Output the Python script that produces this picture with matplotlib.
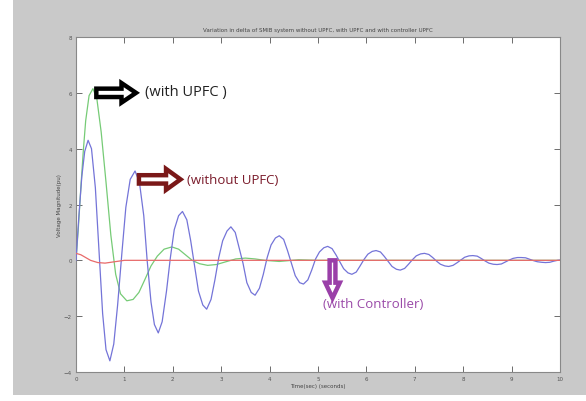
import matplotlib
matplotlib.use("Agg")
import matplotlib.pyplot as plt
from matplotlib.patches import Rectangle, FancyArrow

# ---- data ----
t_without = [0.00, 0.06, 0.12, 0.18, 0.25, 0.32, 0.40, 0.48, 0.55, 0.62, 0.70, 0.78, 0.86, 0.95,
             1.03, 1.12, 1.22, 1.31, 1.40, 1.47, 1.55, 1.62, 1.70, 1.78, 1.87, 1.95,
             2.03, 2.12, 2.20, 2.29, 2.37, 2.45, 2.53, 2.62, 2.70, 2.79, 2.87, 2.95,
             3.03, 3.12, 3.20, 3.29, 3.37, 3.45, 3.53, 3.62, 3.70, 3.79, 3.87, 3.95,
             4.03, 4.12, 4.20, 4.29, 4.37, 4.45, 4.53, 4.62, 4.70, 4.79, 4.87, 4.95,
             5.03, 5.12, 5.20, 5.29, 5.37, 5.45, 5.53, 5.62, 5.70, 5.79, 5.87, 5.95,
             6.03, 6.12, 6.20, 6.29, 6.37, 6.45, 6.53, 6.62, 6.70, 6.79, 6.87, 6.95,
             7.03, 7.12, 7.20, 7.29, 7.37, 7.45, 7.53, 7.62, 7.70, 7.79, 7.87, 7.95,
             8.03, 8.12, 8.20, 8.29, 8.37, 8.45, 8.53, 8.62, 8.70, 8.79, 8.87, 8.95,
             9.03, 9.12, 9.20, 9.29, 9.37, 9.45, 9.53, 9.62, 9.70, 9.79, 9.87, 9.95, 10.0]
v_without = [0.0, 1.6, 3.0, 3.9, 4.3, 4.0, 2.6, 0.2, -1.9, -3.2, -3.6, -3.0, -1.6, 0.3,
             1.9, 2.9, 3.2, 2.8, 1.6, 0.0, -1.5, -2.3, -2.6, -2.2, -1.1, 0.1,
             1.1, 1.6, 1.75, 1.45, 0.7, -0.2, -1.1, -1.6, -1.75, -1.4, -0.7, 0.1,
             0.7, 1.05, 1.2, 1.0, 0.45, -0.1, -0.8, -1.15, -1.25, -1.0, -0.5, 0.1,
             0.55, 0.8, 0.88, 0.75, 0.35, -0.1, -0.55, -0.8, -0.85, -0.7, -0.35, 0.05,
             0.3, 0.45, 0.5, 0.42, 0.2, -0.05, -0.3, -0.45, -0.5, -0.42, -0.2, 0.03,
             0.22, 0.32, 0.35, 0.3, 0.14, -0.04, -0.22, -0.32, -0.35, -0.29, -0.14, 0.02,
             0.16, 0.23, 0.25, 0.21, 0.1, -0.03, -0.14, -0.2, -0.22, -0.18, -0.09, 0.01,
             0.11, 0.16, 0.17, 0.15, 0.07, -0.02, -0.1, -0.14, -0.15, -0.13, -0.06, 0.01,
             0.07, 0.1, 0.1, 0.09, 0.04, -0.01, -0.05, -0.07, -0.08, -0.07, -0.03, 0.0, 0.01]

t_with = [0.00, 0.05, 0.10, 0.15, 0.20, 0.27, 0.35, 0.43, 0.52, 0.62, 0.72, 0.82, 0.92, 1.05,
          1.18, 1.30, 1.42, 1.55, 1.68, 1.82, 1.98, 2.12, 2.26, 2.40, 2.55, 2.72, 2.90,
          3.10, 3.30, 3.50, 3.70, 3.90, 4.20, 4.60, 5.00, 6.00, 7.00, 8.00, 9.00, 10.0]
v_with = [0.0, 1.2, 2.6, 3.9, 5.0, 5.9, 6.15, 5.8, 4.6, 2.8, 0.9, -0.5, -1.2, -1.45,
          -1.4, -1.15, -0.7, -0.2, 0.15, 0.4, 0.48, 0.4, 0.2, 0.0, -0.12, -0.18, -0.15,
          -0.05, 0.05, 0.08, 0.05, 0.0, -0.04, 0.02, 0.0, 0.0, 0.0, 0.0, 0.0, 0.0]

t_ctrl = [0.0, 0.1, 0.2, 0.3, 0.45, 0.6, 0.8, 1.0, 10.0]
v_ctrl = [0.25, 0.2, 0.1, 0.0, -0.08, -0.1, -0.05, 0.0, 0.0]

x_ticks = [0, 1, 2, 3, 4, 5, 6, 7, 8, 9, 10]
y_ticks = [-4, -2, 0, 2, 4, 6, 8]

title = "Variation in delta of SMIB system without UPFC, with UPFC and with controller UPFC"
xlabel = "Time(sec) (seconds)"
ylabel = "Voltage Magnitude(pu)"

W, H = 586, 402
fig = plt.figure(figsize=(W / 100, H / 100), dpi=100, facecolor="white")
bg = Rectangle((13 / W, 6 / H), 1 - 13 / W, 1 - 6 / H, transform=fig.transFigure,
               facecolor="#c9c9c9", edgecolor="none", zorder=-10)
fig.patches.append(bg)

ax = fig.add_axes([76 / W, 1 - 373 / H, (560 - 76) / W, (373 - 38) / H])
ax.set_zorder(5)
ax.set_facecolor("white")
ax.plot(t_without, v_without, color="#7474d8", lw=0.9, zorder=3)
ax.plot(t_with, v_with, color="#76cb76", lw=0.9, zorder=2)
ax.plot(t_ctrl, v_ctrl, color="#e86a6a", lw=0.9, zorder=4)

ax.set_xlim(0, 10)
ax.set_ylim(-4, 8)
ax.set_xticks(x_ticks)
ax.set_yticks(y_ticks)
ax.tick_params(direction="in", length=4, width=0.6, labelsize=4, colors="#555555",
               top=True, right=True, pad=3)
for s in ax.spines.values():
    s.set_color("#888888")
    s.set_linewidth(0.8)

ax.set_title(title, fontsize=4, color="#444444", pad=4)
ax.set_xlabel(xlabel, fontsize=4, color="#444444", labelpad=1)
ax.set_ylabel(ylabel, fontsize=4, color="#444444", labelpad=1)

# annotations in data coordinates
def hollow_arrow(x, y, dx, dy, color, width, head_w, head_l):
    ax.add_patch(FancyArrow(x, y, dx, dy, width=width, head_width=head_w, head_length=head_l,
                            length_includes_head=True, facecolor="white", edgecolor=color,
                            linewidth=3.2, zorder=6, clip_on=False))

hollow_arrow(0.42, 6.0, 0.82, 0, "black", 0.3, 0.7, 0.3)
ax.text(1.42, 6.05, "(with UPFC )", fontsize=10.5, color="#222222", va="center", ha="left",
        family="Open Sans")
hollow_arrow(1.3, 2.9, 0.86, 0, "#7a1818", 0.3, 0.75, 0.3)
ax.text(2.3, 2.9, "(without UPFC)", fontsize=9.5, color="#7a1a2a", va="center", ha="left",
        family="Open Sans")
ax.add_patch(FancyArrow(5.3, 0.0, 0, -1.35, width=0.12, head_width=0.3, head_length=0.55,
                        length_includes_head=True, facecolor="white", edgecolor="#9a3fa8",
                        linewidth=3.2, zorder=6))
ax.text(5.1, -1.55, "(with Controller)", fontsize=9.5, color="#9a4aa8", va="center", ha="left",
        family="Open Sans")

fig.savefig("out.png", dpi=100, facecolor="white")
